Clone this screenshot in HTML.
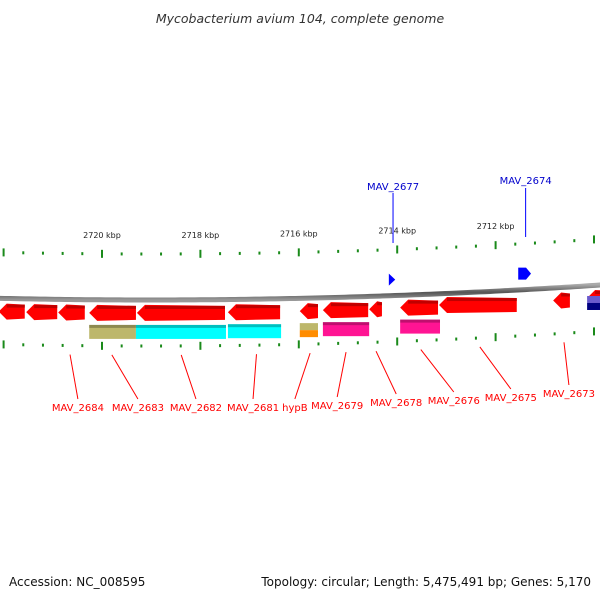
<!DOCTYPE html>
<html><head><meta charset="utf-8"><style>
body{margin:0;background:#fff;width:600px;height:600px;overflow:hidden;font-family:"Liberation Sans","DejaVu Sans",sans-serif}
</style></head><body>
<svg id="map" width="600" height="600" xmlns="http://www.w3.org/2000/svg" font-family="DejaVu Sans, Liberation Sans, sans-serif">
<defs>
<linearGradient id="bb" x1="0" y1="0" x2="0" y2="1"><stop offset="0" stop-color="#aaa"/><stop offset="0.5" stop-color="#555"/><stop offset="1" stop-color="#999"/></linearGradient>
</defs>
<text x="300" y="23" text-anchor="middle" font-size="12.5" font-style="italic" fill="#333">Mycobacterium avium 104, complete genome</text>
<text x="9" y="586" font-size="12" fill="#111">Accession: NC_008595</text>
<text x="591" y="586" font-size="12" fill="#111" text-anchor="end">Topology: circular; Length: 5,475,491 bp; Genes: 5,170</text>
<g id="g"></g>
</svg>
<script>
const majorTicks=[2722,2720,2718,2716,2714,2712,2710];
const tickLabels=["2722 kbp","2720 kbp","2718 kbp","2716 kbp","2714 kbp","2712 kbp","2710 kbp"];
const geneStart=[2722.1,2721.54,2720.89,2720.26,2719.29,2717.44,2715.98,2715.51,2714.57,2713.94,2713.15,2710.83,2710.14];
const geneEnd=[2721.57,2720.91,2720.35,2719.31,2717.5,2716.38,2715.61,2714.59,2714.31,2713.17,2711.57,2710.49,2709.6];
const featStart=[2720.26,2719.31,2717.44,2715.98,2715.51,2713.94,2710.14];
const featEnd=[2719.31,2717.48,2716.36,2715.61,2714.57,2713.13,2709.6];
const featColor=["#bdb76b","#00ffff","#00ffff","#d2a040","#ff1493","#ff1493","#4444cc"];
const fwdStart=[2714.17,2711.54];
const fwdEnd=[2714.04,2711.28];
const fwdNames=["MAV_2677","MAV_2674"];
const labelNames=["MAV_2684","MAV_2683","MAV_2682","MAV_2681","hypB","MAV_2679","MAV_2678","MAV_2676","MAV_2675","MAV_2673"];
const labelGenePos=[2720.65,2719.80,2718.39,2716.86,2715.77,2715.04,2714.43,2713.52,2712.32,2710.61];
const labelTextPos=[2720.49,2719.27,2718.09,2716.93,2716.08,2715.22,2714.02,2712.85,2711.69,2710.51];
const labelY=[411,411,411,411,411,409,406,404,401,397];

const X=k=>102+(2720-k)*49.2;
const Yc=x=>300-7.4e-5*(x-150)*(x-150);
const ns="http://www.w3.org/2000/svg";
const G=document.getElementById('g');
function mk(t,a){const e=document.createElementNS(ns,t);for(const k in a)e.setAttribute(k,a[k]);G.appendChild(e);return e;}
let d="";for(let x=-5;x<=605;x+=5){d+=(x==-5?"M":"L")+x+","+Yc(x).toFixed(2);}
let bb=mk('path',{d:d,stroke:'url(#bb)','stroke-width':5,fill:'none'});


for(let k=2722;k>=2709.6;k-=0.4){
  const kk=Math.round(k*10)/10;const x=X(kk);if(x<0||x>600)continue;
  const major=Math.abs(kk-Math.round(kk/2)*2)<0.01;
  const h=major?8:3;
  const yo=Yc(x)-46, yi=Yc(x)+46;
  let t1=mk('line',{x1:x,x2:x,y1:yo-h/2,y2:yo+h/2,stroke:'#1a8a1a','stroke-width':2});
  
  
  let t2=mk('line',{x1:x,x2:x,y1:yi-h/2,y2:yi+h/2,stroke:'#1a8a1a','stroke-width':2});
  
  
}
majorTicks.forEach((k,i)=>{const x=X(k);if(x<20||x>580)return;
  let t=mk('text',{x:x,y:Yc(x)-62,'font-size':8,'text-anchor':'middle',fill:'#222'});t.textContent=tickLabels[i];
  
  
});
geneStart.forEach((s,i)=>{
  const x1=X(s),x2=X(geneEnd[i]);const y=Yc((x1+x2)/2)+6;const h=14,ah=8;
  let e=mk('polygon',{points:`${x1+ah},${y-1} ${x2},${y} ${x2},${y+h} ${x1+ah},${y+h+1} ${x1},${y+h/2}`,fill:'#ff0000'});
  
  
  let s2=mk('rect',{x:x1+ah,y:y,width:Math.max(0,x2-x1-ah),height:3,fill:'#c00000'});
  
  
});
featStart.forEach((s,i)=>{
  const x1=X(s),x2=X(featEnd[i]);const y=Yc((x1+x2)/2)+25;
  if(i==3){
    let a=mk('rect',{x:x1,y:y,width:x2-x1,height:7,fill:'#bdb76b'});
    let b=mk('rect',{x:x1,y:y+7,width:x2-x1,height:7,fill:'#ff8c00'});
    return;}
  if(i==6){
    let a=mk('rect',{x:x1,y:y-14,width:x2-x1,height:7,fill:'#6a5acd'});
    let b=mk('rect',{x:x1,y:y-7,width:x2-x1,height:7,fill:'#000080'});
    return;}
  let e=mk('rect',{x:x1,y:y,width:x2-x1,height:14,fill:featColor[i]});
  
  
  let s2=mk('rect',{x:x1,y:y,width:x2-x1,height:3,fill:'rgba(0,0,0,0.25)'});
  
  
});
fwdStart.forEach((s,i)=>{
  const x1=X(s),x2=X(fwdEnd[i]);const yb=Yc((x1+x2)/2)-10;const h=12;
  let e=mk('polygon',{points:i==0?`${x1},${yb-h} ${x2},${yb-h/2} ${x1},${yb}`:`${x1},${yb-h} ${x2-5},${yb-h} ${x2},${yb-h/2} ${x2-5},${yb} ${x1},${yb}`,fill:'#0000ff'});
  
  
  const lx=(x1+x2)/2+1;
  let l=mk('line',{x1:lx,x2:lx,y1:i==0?193:188,y2:i==0?243:237,stroke:'#0000ff','stroke-width':1});
  
  
  let t=mk('text',{x:lx,y:i==0?190:184,'font-size':10,'text-anchor':'middle',fill:'#0000cc'});t.textContent=fwdNames[i];
  
  
});
labelNames.forEach((n,i)=>{
  const gx=X(labelGenePos[i]),tx=X(labelTextPos[i]);
  let l=mk('line',{x1:gx,y1:Yc(gx)+55,x2:tx,y2:labelY[i]-12,stroke:'#ff0000','stroke-width':1});
  
  
  let t=mk('text',{x:tx,y:labelY[i],'font-size':10,'text-anchor':'middle',fill:'#ff0000'});t.textContent=n;
  
  
});
</script>
</body></html>
